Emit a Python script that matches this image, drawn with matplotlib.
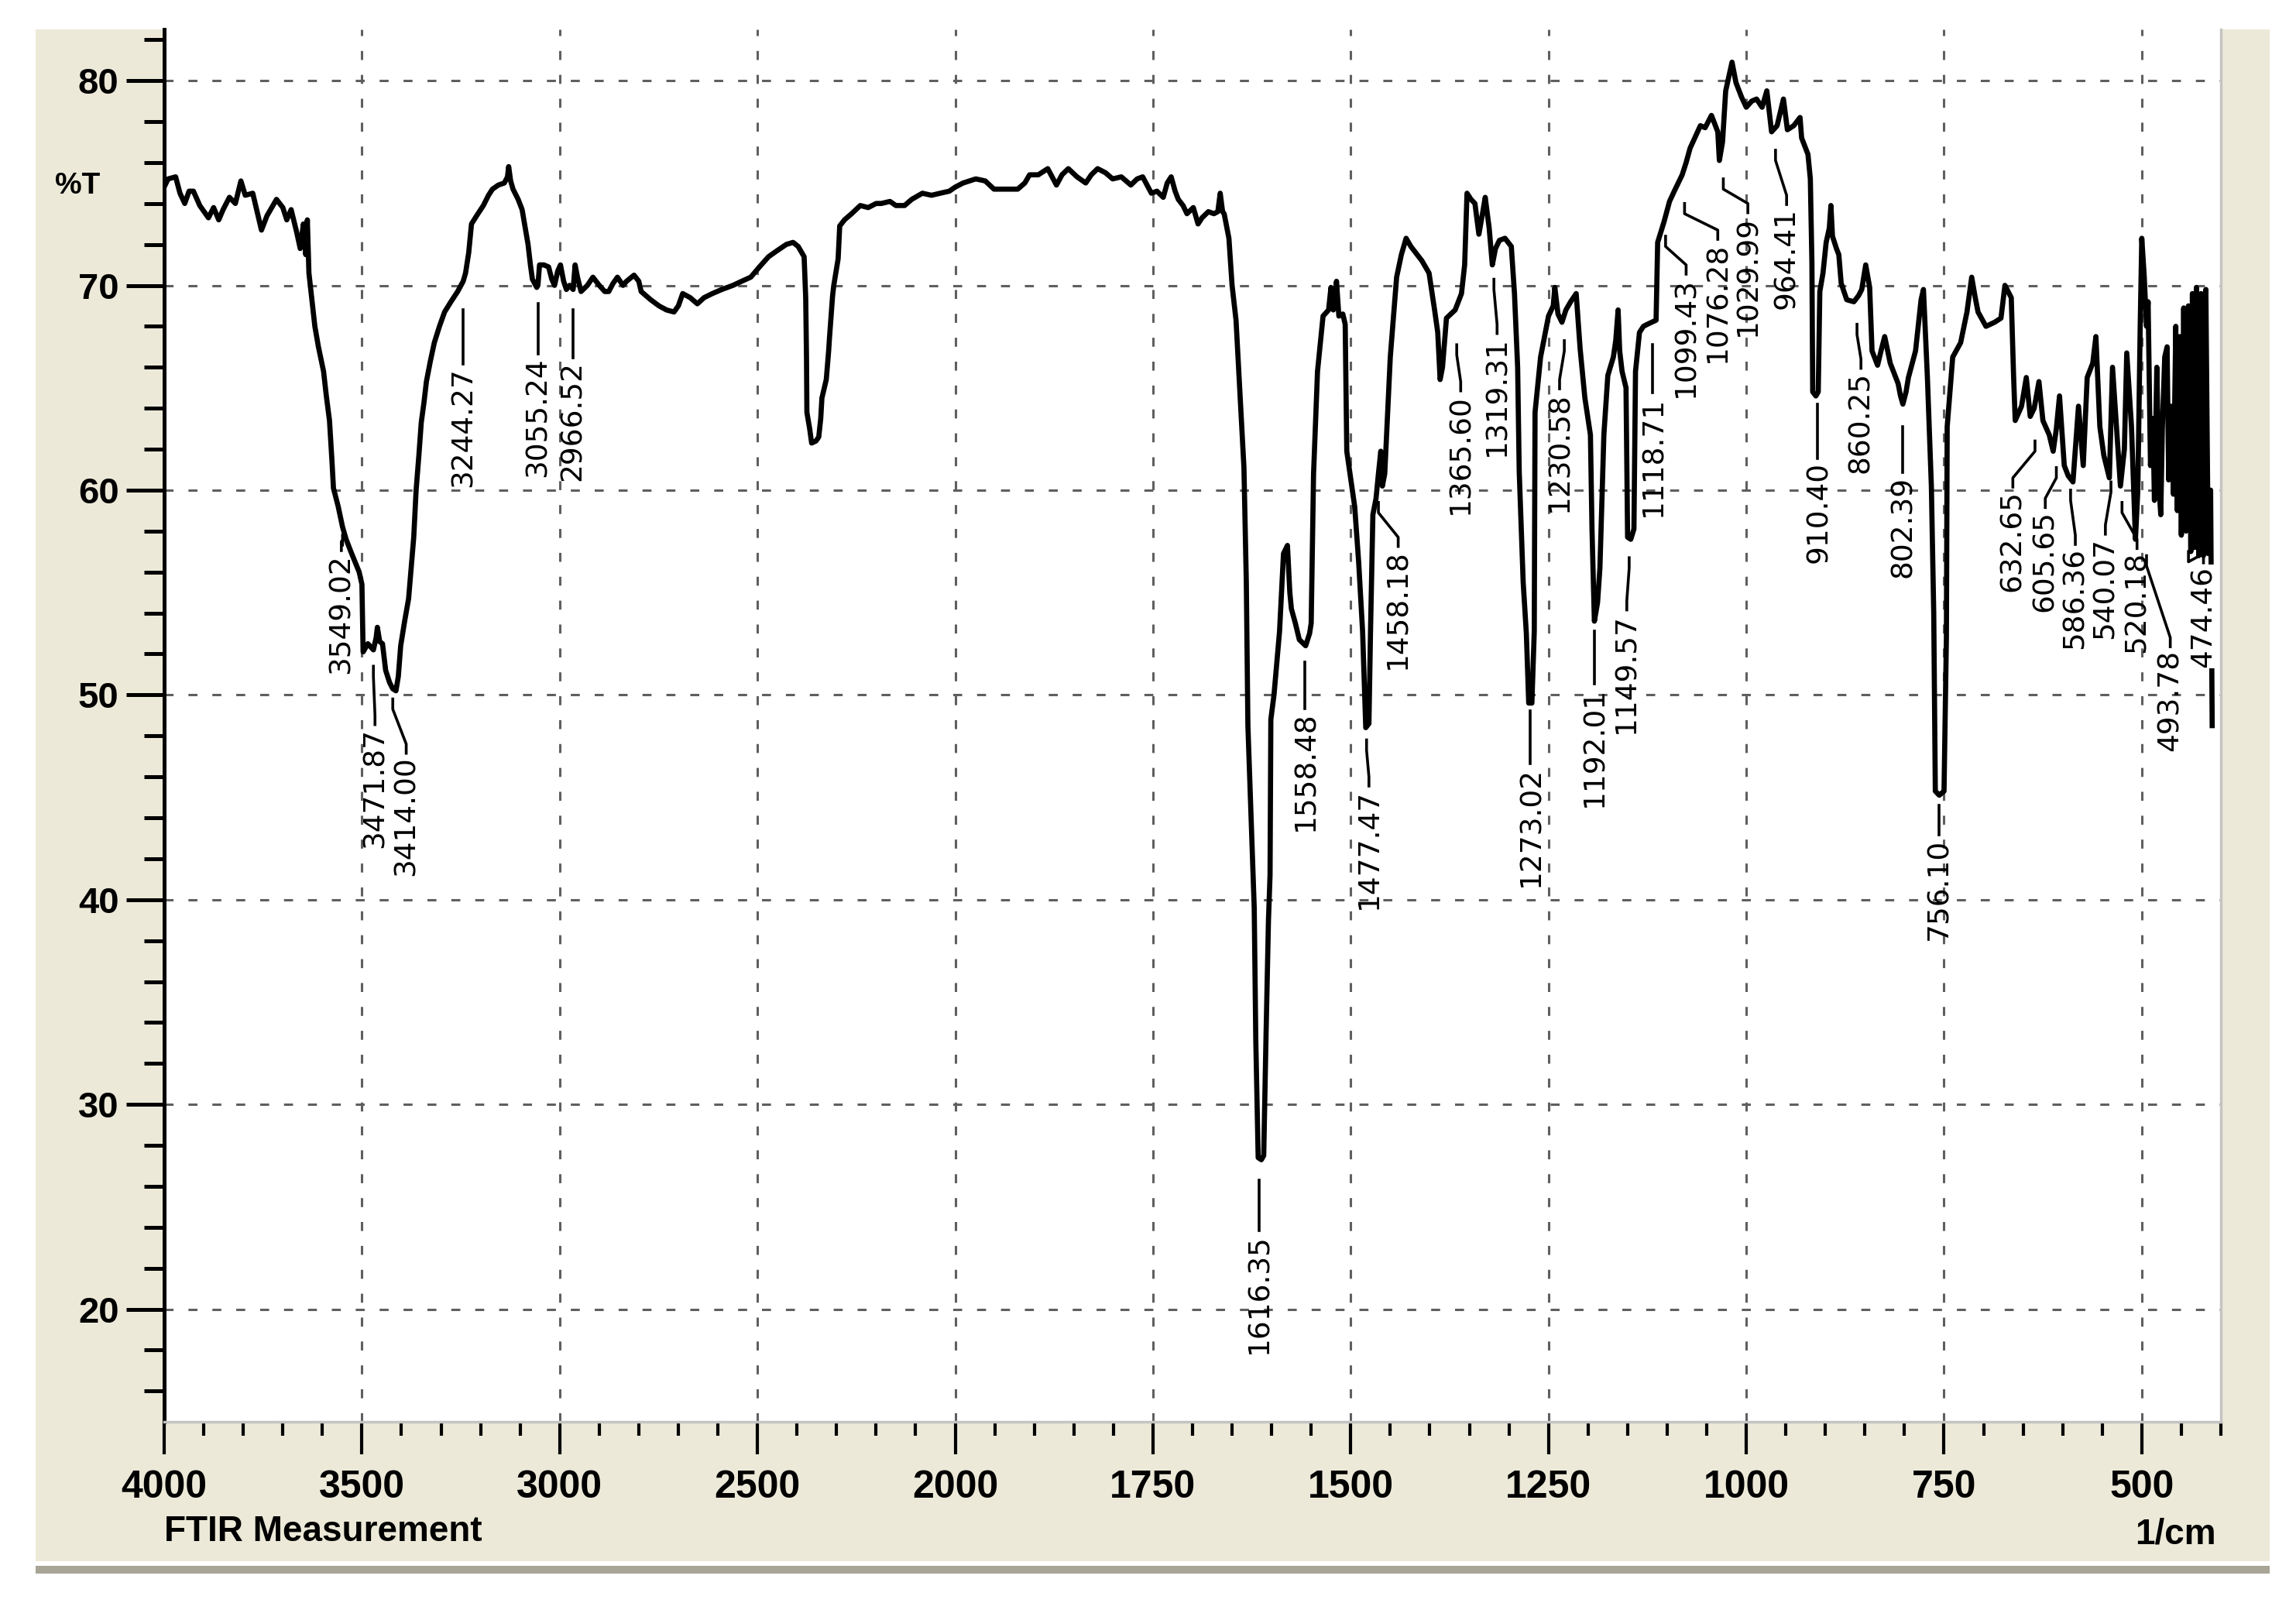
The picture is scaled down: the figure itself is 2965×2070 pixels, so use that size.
import numpy as np
import matplotlib
matplotlib.use("Agg")
import matplotlib.pyplot as plt
from matplotlib.patches import Rectangle
from matplotlib.ticker import FixedLocator, FuncFormatter, NullFormatter

# spectrum in pieces (wavenumber in 1/cm, %T)
wn_a = [4000, 3990, 3971, 3960, 3948, 3937, 3926, 3910, 3888, 3875, 3862, 3851, 3835, 3820, 3806,
        3795, 3776, 3765, 3754, 3740, 3716, 3700, 3690, 3679, 3665, 3656, 3648, 3642, 3638, 3634,
        3626, 3619, 3610, 3597, 3590, 3582, 3576, 3572, 3560, 3549, 3540, 3528, 3507]
t_a = [74.8, 75.2, 75.3, 74.5, 74.0, 74.6, 74.6, 73.9, 73.3, 73.8, 73.2, 73.7, 74.3, 74.0, 75.1,
       74.4, 74.5, 73.6, 72.7, 73.4, 74.2, 73.8, 73.2, 73.7, 72.6, 71.8, 73.0, 71.5, 73.2, 70.6,
       69.2, 68.0, 67.0, 65.8, 64.6, 63.4, 61.5, 60.1, 59.2, 58.2, 57.6, 57.0, 56.0]

wn_b = [3500, 3497, 3485, 3471, 3464, 3461, 3455, 3448, 3440, 3430, 3422, 3414, 3408, 3402, 3392,
        3382, 3375, 3369, 3363, 3356, 3350, 3343, 3337, 3327, 3317, 3304, 3291, 3275, 3258, 3244,
        3238, 3230, 3223, 3210, 3193, 3180, 3170, 3155, 3140, 3132, 3129, 3124, 3118, 3105, 3095,
        3087, 3080, 3074, 3069, 3058, 3055, 3051, 3040, 3028, 3020, 3013, 3005]
t_b = [55.4, 52.1, 52.5, 52.2, 52.8, 53.3, 52.6, 52.5, 51.2, 50.6, 50.3, 50.2, 50.9, 52.4, 53.6,
       54.7, 56.3, 57.7, 60.0, 61.7, 63.3, 64.3, 65.3, 66.3, 67.2, 68.0, 68.7, 69.2, 69.7, 70.2,
       70.6, 71.6, 73.0, 73.4, 73.9, 74.4, 74.7, 74.9, 75.0, 75.3, 75.8, 75.1, 74.7, 74.2, 73.7,
       72.8, 72.0, 71.0, 70.3, 69.9, 70.0, 71.0, 71.0, 70.9, 70.3, 70.0, 70.7]

wn_c = [2998, 2990, 2983, 2975, 2966, 2961, 2955, 2946, 2930, 2916, 2900, 2886, 2876, 2865, 2854,
        2840, 2831, 2812, 2800, 2794, 2770, 2749, 2730, 2711, 2700, 2689, 2670, 2652, 2635, 2614,
        2590, 2562, 2540, 2517, 2495, 2472, 2450, 2427, 2410, 2397, 2388, 2382, 2378, 2376, 2375,
        2368, 2363, 2352, 2345, 2340, 2337, 2326, 2320, 2318, 2310, 2307, 2296, 2292, 2280, 2262,
        2240, 2220, 2200, 2187, 2165, 2150, 2128, 2110, 2083, 2060, 2038, 2015]
t_c = [71.0, 70.2, 69.8, 70.0, 69.8, 71.0, 70.4, 69.7, 70.0, 70.4, 70.0, 69.7, 69.7, 70.1, 70.4,
       70.0, 70.2, 70.5, 70.2, 69.7, 69.3, 69.0, 68.8, 68.7, 69.0, 69.6, 69.4, 69.1, 69.4, 69.6,
       69.8, 70.0, 70.2, 70.4, 70.9, 71.4, 71.7, 72.0, 72.1, 71.9, 71.6, 71.4, 69.4, 66.5, 63.8,
       63.0, 62.3, 62.4, 62.6, 63.5, 64.5, 65.4, 66.8, 67.4, 69.5, 70.0, 71.3, 72.9, 73.2, 73.5,
       73.9, 73.8, 74.0, 74.0, 74.1, 73.9, 73.9, 74.2, 74.5, 74.4, 74.5, 74.6]

wn_d = [2000, 1990, 1974, 1962, 1951, 1935, 1921, 1912, 1906, 1895, 1883, 1872, 1865, 1857, 1846,
        1835, 1828, 1820, 1810, 1801, 1790, 1778, 1770, 1763, 1752, 1745, 1737, 1732, 1727, 1722,
        1718, 1712, 1707, 1699, 1693, 1688, 1680, 1673, 1668, 1665, 1662, 1660, 1654, 1650, 1645,
        1641, 1635, 1632, 1630, 1625, 1622, 1620, 1617, 1613, 1610, 1607, 1604, 1602]
t_d = [74.8, 75.0, 75.2, 75.1, 74.7, 74.7, 74.7, 75.0, 75.4, 75.4, 75.7, 74.9, 75.4, 75.7, 75.3,
       75.0, 75.4, 75.7, 75.5, 75.2, 75.3, 74.9, 75.2, 75.3, 74.5, 74.6, 74.3, 75.0, 75.3, 74.6,
       74.2, 73.9, 73.5, 73.8, 73.0, 73.3, 73.6, 73.5, 73.6, 74.5, 73.6, 73.5, 72.3, 70.0, 68.3,
       65.4, 61.1, 55.5, 48.5, 43.0, 39.6, 33.1, 27.4, 27.3, 27.5, 33.5, 39.0, 41.2]

wn_e = [1601, 1597, 1590, 1585, 1580, 1577, 1575, 1570, 1565, 1557, 1552, 1550, 1547, 1542, 1535,
        1528, 1525, 1522, 1518, 1515, 1510, 1507, 1505, 1495, 1490, 1485, 1481, 1477, 1475, 1472,
        1468, 1465, 1462, 1460, 1457, 1450, 1442, 1436, 1430, 1424, 1410, 1401, 1394, 1390, 1387,
        1384, 1379, 1368, 1360, 1356, 1353, 1348, 1343, 1338, 1333, 1330, 1325, 1321, 1317, 1312,
        1305, 1297, 1293, 1289, 1287, 1282, 1278, 1275, 1271, 1268, 1267, 1260, 1250, 1244, 1242,
        1238, 1233, 1228, 1222, 1215, 1210, 1204]
t_e = [48.8, 50.0, 53.1, 56.9, 57.3, 55.0, 54.2, 53.5, 52.7, 52.4, 53.0, 53.5, 60.8, 65.8, 68.5,
       68.8, 69.9, 68.8, 70.2, 68.5, 68.6, 68.1, 61.9, 59.2, 56.5, 53.1, 48.4, 48.6, 53.1, 58.8,
       59.6, 60.8, 61.9, 60.2, 60.8, 66.5, 70.4, 71.5, 72.3, 71.9, 71.2, 70.6, 68.8, 67.7, 65.4,
       66.0, 68.4, 68.8, 69.6, 71.0, 74.5, 74.2, 74.0, 72.5, 73.6, 74.3, 72.8, 71.0, 71.8, 72.2,
       72.3, 71.9, 69.6, 66.0, 60.9, 55.5, 53.0, 49.6, 49.6, 53.1, 63.8, 66.5, 68.5, 69.0, 69.9,
       68.6, 68.2, 68.8, 69.2, 69.6, 66.9, 64.5]

wn_f = [1197, 1195, 1192, 1188, 1185, 1180, 1175, 1168, 1165, 1162, 1160, 1157, 1152, 1150, 1146,
        1142, 1140, 1135, 1130, 1125, 1114, 1112, 1104, 1097, 1091, 1081, 1076, 1071, 1058, 1052,
        1044, 1036, 1034, 1030, 1026, 1018, 1013, 1006, 1000, 993, 987, 980, 974, 968, 961,
        953, 948, 940, 932, 930, 922, 919, 917, 916, 912, 909, 907, 903]
t_f = [62.7, 58.1, 53.6, 54.5, 56.2, 62.7, 65.6, 66.5, 67.3, 68.8, 66.8, 65.8, 65.0, 57.7, 57.6,
       58.1, 65.8, 67.7, 68.0, 68.1, 68.3, 72.1, 73.1, 74.1, 74.6, 75.4, 76.0, 76.7, 77.8, 77.7,
       78.3, 77.5, 76.1, 77.0, 79.5, 80.9, 79.9, 79.2, 78.7, 79.0, 79.1, 78.7, 79.5, 77.5, 77.8,
       79.1, 77.6, 77.8, 78.2, 77.2, 76.4, 75.2, 71.1, 64.8, 64.6, 64.8, 69.7, 70.6]

wn_g = [899, 895, 893, 891, 886, 883, 880, 873, 864, 858, 854, 849, 844, 841, 834,
        829, 825, 818, 808, 805, 802, 798, 795, 786, 779, 776, 771, 766, 763, 761,
        756, 750, 747, 746, 739, 729, 721, 715, 711, 707]
t_g = [72.1, 72.8, 73.9, 72.4, 71.8, 71.5, 70.1, 69.3, 69.2, 69.5, 69.8, 71.0, 69.9, 66.8, 66.1,
       66.9, 67.5, 66.2, 65.2, 64.6, 64.2, 64.8, 65.5, 66.8, 69.3, 69.8, 65.5, 60.2, 54.0, 45.3,
       45.1, 45.3, 52.8, 63.1, 66.5, 67.2, 68.7, 70.4, 69.5, 68.7]

wn_h = [697, 686, 678, 673, 665, 662, 660, 652, 646, 641, 636, 630, 625, 617, 612,
        608, 604, 598, 593, 587, 580, 574, 569, 562, 558, 553, 548, 541, 537, 532,
        527, 522, 519, 513, 508, 505, 502, 500, 497, 494, 492, 489, 486, 484, 481,
        478, 476, 474, 471, 468, 466, 463, 460, 457, 455, 452, 450, 447, 444, 441,
        438, 436, 433, 431, 428, 425, 422, 419, 416, 413, 411]
t_h = [68.0, 68.2, 68.4, 70.0, 69.4, 65.5, 63.4, 64.1, 65.5, 63.6, 64.0, 65.3, 63.4, 62.7, 61.9,
       63.0, 64.6, 61.2, 60.7, 60.4, 64.1, 61.2, 65.5, 66.2, 67.5, 63.1, 61.7, 60.6, 66.0, 63.1,
       60.2, 62.0, 66.7, 63.1, 57.6, 60.0, 68.0, 72.3, 70.5, 68.0, 69.2, 61.2, 63.5, 59.5, 66.0,
       60.0, 58.8, 63.0, 66.5, 67.0, 60.5, 64.1, 59.8, 68.0, 59.0, 67.5, 57.8, 68.9, 58.0, 69.0,
       57.0, 69.6, 57.2, 69.9, 56.8, 69.6, 56.8, 69.8, 56.9, 60.0, 48.5]

# picked peaks
peak_values = [3549.02, 3471.87, 3414.00, 3244.27, 3055.24, 2966.52, 1616.35, 1558.48,
               1477.47, 1458.18, 1365.60, 1319.31, 1273.02, 1230.58, 1192.01, 1149.57,
               1118.71, 1099.43, 1076.28, 1029.99, 964.41, 910.40, 860.25, 802.39,
               756.10, 632.65, 605.65, 586.36, 540.07, 520.18, 493.78, 474.46]
peak_depth = [57.8, 51.4, 49.8, 68.8, 69.1, 68.8, 26.3, 51.6, 47.8, 59.4, 67.1, 70.3, 49.2,
              67.3, 53.1, 56.7, 67.1, 72.4, 74.0, 75.2, 76.6, 64.2, 68.1, 63.1, 44.6, 62.4,
              61.1, 60.0, 60.4, 59.4, 56.8, 57.0]

# where the peak labels sit (leader start x, text x, text top)
leader_x0 = [3549, 3471, 3422, 3244, 3055, 2966, 1616, 1558, 1480, 1465, 1366, 1319, 1273,
             1230, 1192, 1148, 1119, 1102, 1078, 1029, 963, 910, 860, 802, 756, 635, 608,
             590, 539, 525, 494, 441]
label_x = [3552, 3467, 3388, 3242, 3055, 2966, 1615, 1557, 1477, 1440, 1361, 1315, 1272,
           1236, 1192, 1151, 1117, 1076, 1036, 998, 949, 908, 855, 801, 756, 663, 622,
           584, 546, 506, 464, 422]
label_top = [56.9, 48.4, 47.0, 66.0, 66.5, 66.3, 23.7, 49.2, 45.4, 57.1, 64.7, 67.5, 46.5,
             64.8, 50.4, 54.0, 64.6, 70.4, 72.1, 73.4, 73.8, 61.4, 65.8, 60.7, 43.0, 60.0,
             59.0, 57.2, 57.7, 57.0, 52.2, 56.3]

x_major = [4000, 3500, 3000, 2500, 2000, 1750, 1500, 1250, 1000, 750, 500]
y_major = [20, 30, 40, 50, 60, 70, 80]

wavenumber = wn_a + wn_b + wn_c + wn_d + wn_e + wn_f + wn_g + wn_h
transmit = t_a + t_b + t_c + t_d + t_e + t_f + t_g + t_h


# the instrument squeezes 4000-2000 to half scale (increasing map, axis inverted by limits)
def fwd(x):
    x = np.asarray(x, dtype=float)
    return np.where(x >= 2000, (x - 4000) / 500.0, -4 - (2000 - x) / 250.0)


def inv(u):
    u = np.asarray(u, dtype=float)
    return np.where(u >= -4, 4000 + 500.0 * u, 2000 + 250.0 * (u + 4))


plt.rcParams['font.family'] = ['Liberation Sans', 'DejaVu Sans']
plt.rcParams['font.weight'] = 'bold'

W, H = 2965, 2070
fig = plt.figure(figsize=(W / 100, H / 100), dpi=100)
fig.patch.set_facecolor('white')

# window panel behind the plot
fig.add_artist(Rectangle((46 / W, 1 - 2016 / H), (2931 - 46) / W, (2016 - 38) / H,
                         transform=fig.transFigure, facecolor='#ECE9D8', edgecolor='none', zorder=-2))
fig.add_artist(Rectangle((46 / W, 1 - 2032 / H), (2931 - 46) / W, 10 / H,
                         transform=fig.transFigure, facecolor='#A8A496', edgecolor='none', zorder=-2))

ax = fig.add_axes([212 / W, 234 / H, 2656 / W, 1798 / H])
ax.set_facecolor('white')
ax.set_xscale('function', functions=(fwd, inv))
ax.set_xlim(4000, 400)
ax.set_ylim(14.5, 82.5)

ax.xaxis.set_major_locator(FixedLocator(x_major))
ax.xaxis.set_minor_locator(FixedLocator(list(range(4000, 2000, -100)) + list(range(2000, 399, -50))))
ax.xaxis.set_major_formatter(FuncFormatter(lambda v, p: f"{v:.0f}"))
ax.xaxis.set_minor_formatter(NullFormatter())
ax.yaxis.set_major_locator(FixedLocator(y_major))
ax.yaxis.set_minor_locator(FixedLocator(list(range(16, 83, 2))))
ax.yaxis.set_minor_formatter(NullFormatter())

ax.grid(which='major', color='#5f5f5f', linewidth=2.2, linestyle=(0, (3.8, 6.3)))
ax.set_axisbelow(True)

ax.tick_params(axis='y', which='major', direction='out', length=35, width=3.6, pad=7, labelsize=34)
ax.tick_params(axis='y', which='minor', direction='out', length=19, width=3.6)
ax.tick_params(axis='x', which='major', direction='out', length=30, width=3.0, pad=15, labelsize=36)
ax.tick_params(axis='x', which='minor', direction='out', length=13, width=3.0)

ax.spines['top'].set_visible(False)
ax.spines['left'].set_color('black')
ax.spines['left'].set_linewidth(3.6)
for side in ['right', 'bottom']:
    ax.spines[side].set_color('#c4c4c4')
    ax.spines[side].set_linewidth(2.5)

ax.plot(wavenumber, transmit, color='black', linewidth=4.8, zorder=3)

# peak labels with leader lines
for v, d, x0, lx, top in zip(peak_values, peak_depth, leader_x0, label_x, label_top):
    if abs(lx - x0) < 3:
        ax.plot([x0, x0], [d, top + 0.15], color='black', linewidth=2.6, zorder=4)
    else:
        ax.plot([x0, x0, lx, lx], [d, d - 0.5, top + 0.6, top + 0.15],
                color='black', linewidth=2.6, zorder=4)
    box = dict(facecolor='white', edgecolor='none', pad=1) if v < 480 else None
    ax.text(lx, top, f"{v:.2f}", rotation=90, ha='center', va='top', fontsize=27,
            fontweight='normal', family='DejaVu Sans', zorder=5, bbox=box)

fig.text(100 / W, 1 - 240 / H, '%T', ha='center', va='center', fontsize=28, fontweight='bold')
fig.text(212 / W, 1 - 1978 / H, 'FTIR Measurement', ha='left', va='center', fontsize=33, fontweight='bold')
fig.text(2862 / W, 1 - 1982 / H, '1/cm', ha='right', va='center', fontsize=33, fontweight='bold')

fig.savefig('out.png', dpi=100)
